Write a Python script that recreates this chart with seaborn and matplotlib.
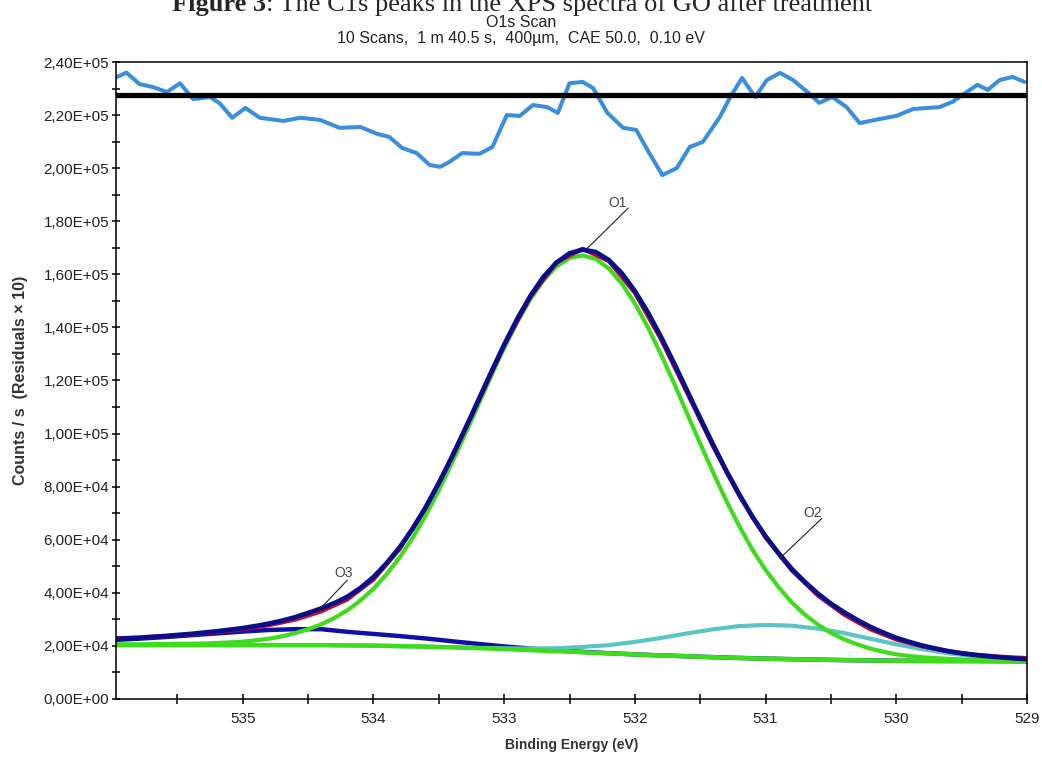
import numpy as np
import pandas as pd
import matplotlib
matplotlib.use("Agg")
import matplotlib.pyplot as plt
import seaborn as sns
from matplotlib.ticker import FuncFormatter, MultipleLocator

# ---------------- data (counts in thousands) ----------------
energy_fine = np.round(np.linspace(536.0, 529.0, 71), 2)   # 0.1 eV grid
envelope_k = [22.5, 22.8, 23.0, 23.4, 23.7, 24.1, 24.5, 25.0, 25.5, 26.1,
              26.7, 27.5, 28.4, 29.5, 30.8, 32.4, 34.1, 36.1, 38.5, 41.8,
              45.9, 51.1, 57.1, 64.2, 72.3, 81.3, 91.2, 101.6, 112.3, 123.1,
              133.5, 143.2, 151.8, 159.0, 164.4, 167.9, 169.3, 168.4, 165.4, 160.4,
              153.7, 145.6, 136.4, 126.5, 116.1, 105.8, 95.7, 85.9, 77.0, 68.6,
              61.3, 54.9, 49.0, 44.1, 39.7, 35.9, 32.7, 29.8, 27.2, 25.0,
              23.0, 21.5, 20.1, 19.0, 18.0, 17.2, 16.6, 16.1, 15.7, 15.3,
              15.0]
o1_k = [20.6, 20.6, 20.6, 20.7, 20.7, 20.8, 20.8, 20.9, 21.1, 21.3,
        21.6, 22.1, 22.7, 23.6, 24.8, 26.3, 28.1, 30.5, 33.4, 37.1,
        41.5, 47.0, 53.3, 60.7, 69.2, 78.6, 88.9, 99.6, 110.6, 121.6,
        132.2, 142.0, 150.6, 157.7, 163.0, 166.2, 167.1, 165.8, 162.2, 156.5,
        149.0, 140.0, 129.8, 118.9, 107.5, 96.2, 85.2, 74.6, 65.0, 56.2,
        48.6, 42.1, 36.4, 31.8, 28.0, 24.9, 22.5, 20.6, 19.0, 17.8,
        16.8, 16.2, 15.7, 15.4, 15.1, 14.9, 14.8, 14.7, 14.7, 14.6,
        14.5]

energy_coarse = np.round(np.linspace(536.0, 529.0, 36), 2)  # 0.2 eV grid
background_k = [20.3, 20.3, 20.3, 20.3, 20.3, 20.3, 20.3, 20.3, 20.3, 20.2,
                20.1, 19.9, 19.7, 19.45, 19.15, 18.8, 18.4, 18.0, 17.6, 17.2,
                16.8, 16.4, 16.1, 15.75, 15.45, 15.2, 15.0, 14.8, 14.65, 14.5,
                14.4, 14.35, 14.3, 14.3, 14.25, 14.2]
o3_k = [22.2, 22.7, 23.3, 24.0, 24.7, 25.4, 26.0, 26.3, 26.3, 25.3,
        24.5, 23.7, 22.8, 21.75, 20.75, 19.8, 19.0, 18.3, 17.75, 17.25,
        16.8, 16.4, 16.1, 15.75, 15.45, 15.2, 15.0, 14.8, 14.65, 14.5,
        14.4, 14.35, 14.3, 14.3, 14.25, 14.2]
o2_k = [20.3, 20.3, 20.3, 20.3, 20.3, 20.3, 20.3, 20.3, 20.3, 20.2,
        20.1, 19.9, 19.7, 19.5, 19.25, 19.1, 19.0, 19.1, 19.6, 20.3,
        21.5, 23.0, 24.7, 26.25, 27.45, 27.9, 27.6, 26.5, 24.85, 22.7,
        20.6, 18.75, 17.2, 16.1, 15.25, 14.7]
measured_k = [22.9, 23.1, 23.6, 24.3, 25.2, 26.3, 27.8, 29.9, 33.0, 37.5,
              45.0, 56.5, 72.0, 91.0, 112.0, 133.3, 151.5, 164.5, 169.6, 165.0,
              153.0, 135.5, 115.3, 95.0, 76.5, 60.8, 48.5, 39.0, 31.8, 26.3,
              22.4, 19.8, 17.9, 16.7, 15.9, 15.4]

resid_energy = [535.98, 535.89, 535.79, 535.69, 535.58, 535.48, 535.38, 535.25, 535.18, 535.08,
                534.98, 534.87, 534.69, 534.56, 534.41, 534.26, 534.10, 533.97, 533.88, 533.78,
                533.67, 533.57, 533.49, 533.42, 533.32, 533.19, 533.09, 532.98, 532.88, 532.78,
                532.67, 532.59, 532.50, 532.40, 532.32, 532.21, 532.09, 531.99, 531.89, 531.79,
                531.68, 531.58, 531.48, 531.35, 531.27, 531.18, 531.08, 530.99, 530.89, 530.79,
                530.68, 530.59, 530.49, 530.38, 530.28, 530.13, 530.00, 529.87, 529.67, 529.57,
                529.38, 529.30, 529.21, 529.11, 529.02]
resid_k = [234.0, 236.0, 231.7, 230.6, 228.7, 232.0, 226.0, 226.8, 224.6, 219.0,
           222.7, 219.0, 217.8, 219.0, 218.2, 215.2, 215.5, 212.9, 211.8, 207.6,
           205.7, 201.2, 200.5, 202.3, 205.7, 205.4, 208.0, 220.0, 219.7, 223.8,
           223.0, 220.8, 232.0, 232.5, 230.2, 220.8, 215.2, 214.4, 205.7, 197.4,
           200.0, 208.0, 209.9, 219.3, 226.8, 234.0, 226.8, 233.2, 235.9, 233.2,
           228.7, 224.6, 226.8, 223.0, 217.0, 218.5, 219.7, 222.3, 223.0, 225.0,
           231.4, 229.5, 233.2, 234.4, 232.5]
resid_zero_k = 227.6

peak_labels = ["O1", "O2", "O3"]
label_text_pos = [(532.13, 187.0), (530.64, 70.0), (534.23, 47.5)]
label_line_end = [(532.37, 169.5), (530.88, 53.5), (534.43, 32.8)]
label_line_start = [(532.05, 185.0), (530.57, 68.0), (534.20, 44.8)]

x_ticks = [535, 534, 533, 532, 531, 530, 529]
y_ticks_k = [0, 20, 40, 60, 80, 100, 120, 140, 160, 180, 200, 220, 240]

# ---------------- build frames ----------------
fine = pd.DataFrame({"E": energy_fine,
                     "envelope": np.array(envelope_k) * 1000,
                     "O1": np.array(o1_k) * 1000})
coarse = pd.DataFrame({"E": energy_coarse,
                       "bg": np.array(background_k) * 1000,
                       "O3": np.array(o3_k) * 1000,
                       "O2": np.array(o2_k) * 1000,
                       "data": np.array(measured_k) * 1000})
resid = pd.DataFrame({"E": resid_energy, "r": np.array(resid_k) * 1000})

# ---------------- style ----------------
sns.set_style("white")
plt.rcParams["font.family"] = ["Liberation Sans", "DejaVu Sans"]
plt.rcParams["axes.linewidth"] = 1.1

fig = plt.figure(figsize=(10.42, 7.6), dpi=100)
ax = fig.add_axes([0.1113, 0.0803, 0.8743, 0.8381])

c_navy = "#0d0d8c"
c_green = "#3fdc1e"
c_cyan = "#5cc4c4"
c_red = "#c0102a"
c_resid = "#3a8edc"

sns.lineplot(data=coarse, x="E", y="O3", ax=ax, color="#1010a8", linewidth=3.2, sort=False)
sns.lineplot(data=coarse, x="E", y="O2", ax=ax, color=c_cyan, linewidth=3.0, sort=False)
sns.lineplot(data=coarse, x="E", y="bg", ax=ax, color=c_green, linewidth=3.2, sort=False)
sns.lineplot(data=fine, x="E", y="O1", ax=ax, color=c_green, linewidth=3.0, sort=False)
sns.lineplot(data=coarse, x="E", y="data", ax=ax, color=c_red, linewidth=3.0, sort=False)
sns.lineplot(data=fine, x="E", y="envelope", ax=ax, color=c_navy, linewidth=3.4, sort=False)

ax.axhline(resid_zero_k * 1000, color="black", linewidth=3.8, zorder=3)
sns.lineplot(data=resid, x="E", y="r", ax=ax, color=c_resid, linewidth=2.9, sort=False)

for lab, tp, ls, le in zip(peak_labels, label_text_pos, label_line_start, label_line_end):
    ax.plot([ls[0], le[0]], [ls[1] * 1000, le[1] * 1000], color="#222222", linewidth=0.8)
    ax.text(tp[0], tp[1] * 1000, lab, ha="center", va="center", fontsize=10, color="#444444")

# ---------------- axes ----------------
ax.set_xlim(535.97, 529.0)
ax.set_ylim(0, 240000)
ax.set_xticks(x_ticks)
ax.xaxis.set_minor_locator(MultipleLocator(0.5))
ax.set_yticks([v * 1000 for v in y_ticks_k])
ax.yaxis.set_minor_locator(MultipleLocator(10000))
ax.yaxis.set_major_formatter(FuncFormatter(lambda v, p: f"{v:.2E}".replace(".", ",")))
ax.xaxis.set_major_formatter(FuncFormatter(lambda v, p: f"{v:g}"))

ax.tick_params(axis="both", which="both", direction="inout", color="black", width=1.1)
ax.tick_params(axis="y", which="major", length=6, labelsize=11, pad=2, labelcolor="#222222")
ax.tick_params(axis="y", which="minor", length=6)
ax.tick_params(axis="x", which="major", length=7, labelsize=11, pad=6, labelcolor="#222222")
ax.tick_params(axis="x", which="minor", length=7)
ax.tick_params(bottom=True, left=True, which="both")
for s in ax.spines.values():
    s.set_color("black")
    s.set_visible(True)

ax.set_xlabel("Binding Energy (eV)", fontsize=10, fontweight="bold", color="#333333")
ax.set_ylabel("Counts / s  (Residuals × 10)", fontsize=11.5, fontweight="bold", color="#333333")
ax.xaxis.set_label_coords(0.5, -0.073)
ax.xaxis.label.set_va("center")
ax.yaxis.set_label_coords(-0.105, 0.5)
ax.yaxis.label.set_va("center")
ax.yaxis.label.set_ha("center")

# ---------------- titles ----------------
serif = ["Liberation Serif", "DejaVu Serif"]
t1 = fig.text(0.165, 0.9855, "Figure 3", fontsize=19, fontweight="bold",
              family=serif, ha="left", va="baseline")
ax.annotate(": The C1s peaks in the XPS spectra of GO after treatment", xy=(1, 0),
            xycoords=t1, xytext=(0, 0), textcoords="offset points",
            fontsize=19, family=serif, ha="left", va="bottom",
            annotation_clip=False)
sub_font = ["Liberation Sans Narrow", "Liberation Sans", "DejaVu Sans"]
fig.text(0.5, 0.971, "O1s Scan", fontsize=11.5, ha="center", va="center", color="#222222",
         family=sub_font)
fig.text(0.5, 0.949, "10 Scans,  1 m 40.5 s,  400µm,  CAE 50.0,  0.10 eV", fontsize=11.5,
         ha="center", va="center", color="#222222", family=sub_font)

fig.savefig("out.png", dpi=100, facecolor="white")
